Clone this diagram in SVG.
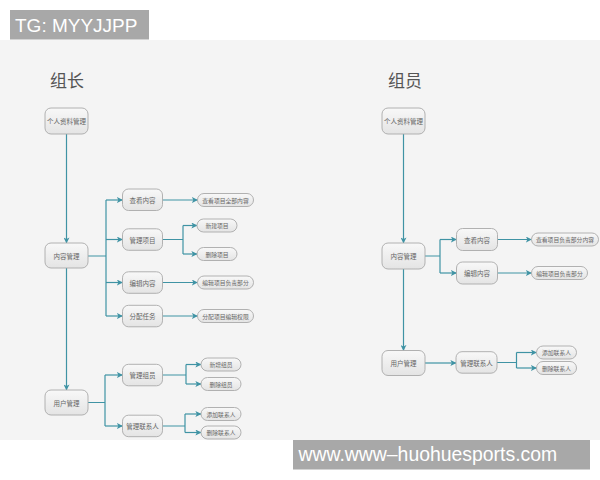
<svg xmlns="http://www.w3.org/2000/svg" width="600" height="480" viewBox="0 0 600 480">
<defs>
<linearGradient id="ng" x1="0" y1="0" x2="0" y2="1">
<stop offset="0" stop-color="#f8f8f8"/>
<stop offset="1" stop-color="#e4e4e4"/>
</linearGradient>
<marker id="ar" viewBox="0 0 8 8" refX="7.5" refY="4" markerWidth="6" markerHeight="6" markerUnits="userSpaceOnUse" orient="auto">
<path d="M0,0 L8,4 L0,8 L2,4 z" fill="#3f93a4"/>
</marker>
</defs>
<style>
.box{fill:url(#ng);stroke:#a9a9a9;stroke-width:0.9}
.t{font-family:"Noto Sans CJK SC","Noto Sans",sans-serif;font-size:6.5px;fill:#666;text-anchor:middle;dominant-baseline:central}
.s{font-size:5.8px}
.h{font-family:"Noto Sans CJK SC","Noto Sans",sans-serif;font-size:17px;fill:#555}
.c{fill:none;stroke:#3f93a4;stroke-width:1.2}
.ca{fill:none;stroke:#3f93a4;stroke-width:1.2;marker-end:url(#ar)}
.wm{font-family:"Liberation Sans","DejaVu Sans",sans-serif;fill:#fff}
</style>
<rect x="0" y="0" width="600" height="480" fill="#ffffff"/>
<rect x="0" y="40" width="600" height="400" fill="#f4f4f4"/>

<text class="h" x="50" y="87">组长</text>
<text class="h" x="388" y="87">组员</text>

<g id="connectors">
<path class="ca" d="M66.5,134 V243"/>
<path class="ca" d="M66.5,268 V390"/>
<path class="c" d="M88,256 H106 M106,200 V316"/>
<path class="ca" d="M106,200 H122.5"/>
<path class="ca" d="M106,239.5 H122.5"/>
<path class="ca" d="M106,282.5 H122.5"/>
<path class="ca" d="M106,316 H122.5"/>
<path class="ca" d="M162.5,200 H197.5"/>
<path class="c" d="M162.5,239.5 H183 M183,225.5 V254"/>
<path class="ca" d="M183,225.5 H197"/>
<path class="ca" d="M183,254 H197"/>
<path class="ca" d="M162.5,282.5 H197.5"/>
<path class="ca" d="M162.5,316 H197.5"/>
<path class="c" d="M88,402.5 H105 M105,375 V426"/>
<path class="ca" d="M105,375 H122.5"/>
<path class="ca" d="M105,426 H122.5"/>
<path class="c" d="M162.5,375 H186 M186,364.5 V384"/>
<path class="ca" d="M186,364.5 H201"/>
<path class="ca" d="M186,384 H201"/>
<path class="c" d="M162.5,426 H185 M185,414 V432.5"/>
<path class="ca" d="M185,414 H201"/>
<path class="ca" d="M185,432.5 H201"/>
<path class="ca" d="M403.5,134 V243"/>
<path class="ca" d="M403.5,269 V350.5"/>
<path class="c" d="M425,256 H440 M440,239.5 V273"/>
<path class="ca" d="M440,239.5 H456.5"/>
<path class="ca" d="M440,273 H456.5"/>
<path class="ca" d="M497.5,239.5 H531.5"/>
<path class="ca" d="M497.5,273 H531.5"/>
<path class="ca" d="M425,363 H456"/>
<path class="c" d="M497,362.5 H516.5 M516.5,352.5 V368"/>
<path class="ca" d="M516.5,352.5 H536.5"/>
<path class="ca" d="M516.5,368 H536.5"/>
</g>

<g id="L-profile"><rect class="box" x="45" y="108" width="43" height="26" rx="6"/><text class="t" x="66.5" y="121">个人资料管理</text></g>
<g id="L-content"><rect class="box" x="45" y="243" width="43" height="25" rx="6"/><text class="t" x="66.5" y="255.5">内容管理</text></g>
<g id="L-user"><rect class="box" x="45" y="390" width="43" height="25" rx="6"/><text class="t" x="66.5" y="402.5">用户管理</text></g>

<g id="L-view"><rect class="box" x="122.5" y="189" width="40" height="21.5" rx="6"/><text class="t" x="142.5" y="199.8">查看内容</text></g>
<g id="L-manageproj"><rect class="box" x="122.5" y="228.8" width="40" height="21.5" rx="6"/><text class="t" x="142.5" y="239.5">管理项目</text></g>
<g id="L-edit"><rect class="box" x="122.5" y="271.8" width="40" height="21.5" rx="6"/><text class="t" x="142.5" y="282.5">编辑内容</text></g>
<g id="L-assign"><rect class="box" x="122.5" y="305.3" width="40" height="21.5" rx="6"/><text class="t" x="142.5" y="316">分配任务</text></g>

<g id="L-viewall"><rect class="box" x="197.5" y="193.5" width="56" height="13" rx="6.5"/><text class="t s" x="225.5" y="200">查看项目全部内容</text></g>
<g id="L-newproj"><rect class="box" x="197" y="219" width="40" height="13" rx="6.5"/><text class="t s" x="217" y="225.5">新建项目</text></g>
<g id="L-delproj"><rect class="box" x="197" y="247.5" width="40" height="13" rx="6.5"/><text class="t s" x="217" y="254">删除项目</text></g>
<g id="L-editpart"><rect class="box" x="197.5" y="276" width="56" height="13" rx="6.5"/><text class="t s" x="225.5" y="282.5">编辑项目负责部分</text></g>
<g id="L-assignperm"><rect class="box" x="197.5" y="309.5" width="56" height="13" rx="6.5"/><text class="t s" x="225.5" y="316">分配项目编辑权限</text></g>

<g id="L-managemem"><rect class="box" x="122.5" y="364.3" width="40" height="21.5" rx="6"/><text class="t" x="142.5" y="375">管理组员</text></g>
<g id="L-managecon"><rect class="box" x="122.5" y="415.2" width="40" height="21.5" rx="6"/><text class="t" x="142.5" y="426">管理联系人</text></g>
<g id="L-addmem"><rect class="box" x="201" y="358" width="40" height="13" rx="6.5"/><text class="t s" x="221" y="364.5">新增组员</text></g>
<g id="L-delmem"><rect class="box" x="201" y="377.5" width="40" height="13" rx="6.5"/><text class="t s" x="221" y="384">删除组员</text></g>
<g id="L-addcon"><rect class="box" x="201" y="407.5" width="40" height="13" rx="6.5"/><text class="t s" x="221" y="414">添加联系人</text></g>
<g id="L-delcon"><rect class="box" x="201" y="426" width="40" height="13" rx="6.5"/><text class="t s" x="221" y="432.5">删除联系人</text></g>

<g id="R-profile"><rect class="box" x="382" y="108" width="43" height="26" rx="6"/><text class="t" x="403.5" y="121">个人资料管理</text></g>
<g id="R-content"><rect class="box" x="382" y="243" width="43" height="26" rx="6"/><text class="t" x="403.5" y="256">内容管理</text></g>
<g id="R-user"><rect class="box" x="382" y="350.5" width="43" height="25" rx="6"/><text class="t" x="403.5" y="363">用户管理</text></g>
<g id="R-view"><rect class="box" x="456.5" y="228.5" width="41" height="22" rx="6"/><text class="t" x="477" y="239.5">查看内容</text></g>
<g id="R-edit"><rect class="box" x="456.5" y="262" width="41" height="22" rx="6"/><text class="t" x="477" y="273">编辑内容</text></g>
<g id="R-viewpart"><rect class="box" x="531.5" y="233" width="67" height="13" rx="6.5"/><text class="t s" x="565" y="239.5">查看项目负责部分内容</text></g>
<g id="R-editpart"><rect class="box" x="531.5" y="266.5" width="56" height="13" rx="6.5"/><text class="t s" x="559.5" y="273">编辑项目负责部分</text></g>
<g id="R-managecon"><rect class="box" x="456" y="351.7" width="41" height="21.5" rx="6"/><text class="t" x="476.5" y="362.5">管理联系人</text></g>
<g id="R-addcon"><rect class="box" x="536.5" y="346" width="40" height="13" rx="6.5"/><text class="t s" x="556.5" y="352.5">添加联系人</text></g>
<g id="R-delcon"><rect class="box" x="536.5" y="361.5" width="40" height="13" rx="6.5"/><text class="t s" x="556.5" y="368">删除联系人</text></g>

<rect x="10" y="10" width="139" height="29.5" fill="#a8a8a8"/>
<text class="wm" x="15" y="32" font-size="19">TG: MYYJJPP</text>
<rect x="293" y="440" width="297" height="29.5" fill="#a8a8a8"/>
<text class="wm" x="298.5" y="460.5" font-size="19.4">www.www–huohuesports.com</text>
</svg>
